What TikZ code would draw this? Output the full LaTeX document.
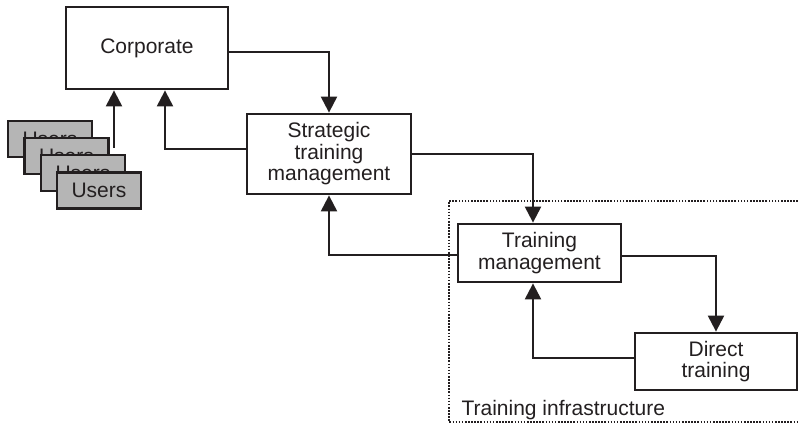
\documentclass[tikz,border=0pt]{standalone}
\usepackage{fontspec}
\setmainfont{Liberation Sans}
\usepackage{xcolor}
\usetikzlibrary{arrows.meta, positioning, calc}

\definecolor{ink}{HTML}{231F20}
\definecolor{usergray}{HTML}{B5B5B5}

\begin{document}
\begin{tikzpicture}[x=1pt, y=-1pt, every node/.style={font=\fontsize{21}{21.5}\selectfont, text=ink},
		box/.style={draw=ink, line width=2.8pt, fill=white, align=center, inner sep=0pt},
		userbox/.style={box, fill=usergray, minimum width=84pt, minimum height=36pt},
		link/.style={draw=ink, line width=2.2pt, -{Triangle[width=16pt,length=16pt]}}]
		\useasboundingbox (0,0) rectangle (798,425);

		% training infrastructure frame
		\draw[ink, line width=1.8pt, dash pattern=on 1.6pt off 1.5pt] (798,201) -- (449,201) -- (449,422) -- (798,422);
		\node[anchor=base west] (infra) at (458,415) {Training infrastructure};

		\node[box, minimum width=162pt, minimum height=82pt] (Corporate) at (147,48) {Corporate};
		\node[box, minimum width=164pt, minimum height=80pt] (Strategic) at (329,154) {Strategic\\
			training\\
			management};
		\node[box, minimum width=163pt, minimum height=58pt] (Training) at (539.5,253) {Training\\
			management};
		\node[box, minimum width=162pt, minimum height=57pt] (Direct) at (716,361.5) {Direct\\
			training};

		\node[userbox] (Users1) at (50,139) {Users};
		\node[userbox] (Users2) at (66.5,156) {Users};
		\node[userbox] (Users3) at (83,173) {Users};
		\node[userbox] (Users4) at (99,190.5) {Users};

		\coordinate (U) at (114,148);
		\draw[link] (U) to (U |- Corporate.south);

		\draw[link] ([yshift=-4pt]Corporate.east) -| (Strategic.north);
		\draw[link] ([yshift=5pt]Strategic.west) -| ([xshift=18pt]Corporate.south);
		\draw[link] (Strategic.east) -| ([xshift=-6.5pt]Training.north);
		\draw[link] ([yshift=-2pt]Training.west) -| (Strategic.south);
		\draw[link] ([yshift=-3pt]Training.east) -| (Direct.north);
		\draw[link] ([yshift=3.5pt]Direct.west) -| ([xshift=-6.5pt]Training.south);
	\end{tikzpicture}
\end{document}
